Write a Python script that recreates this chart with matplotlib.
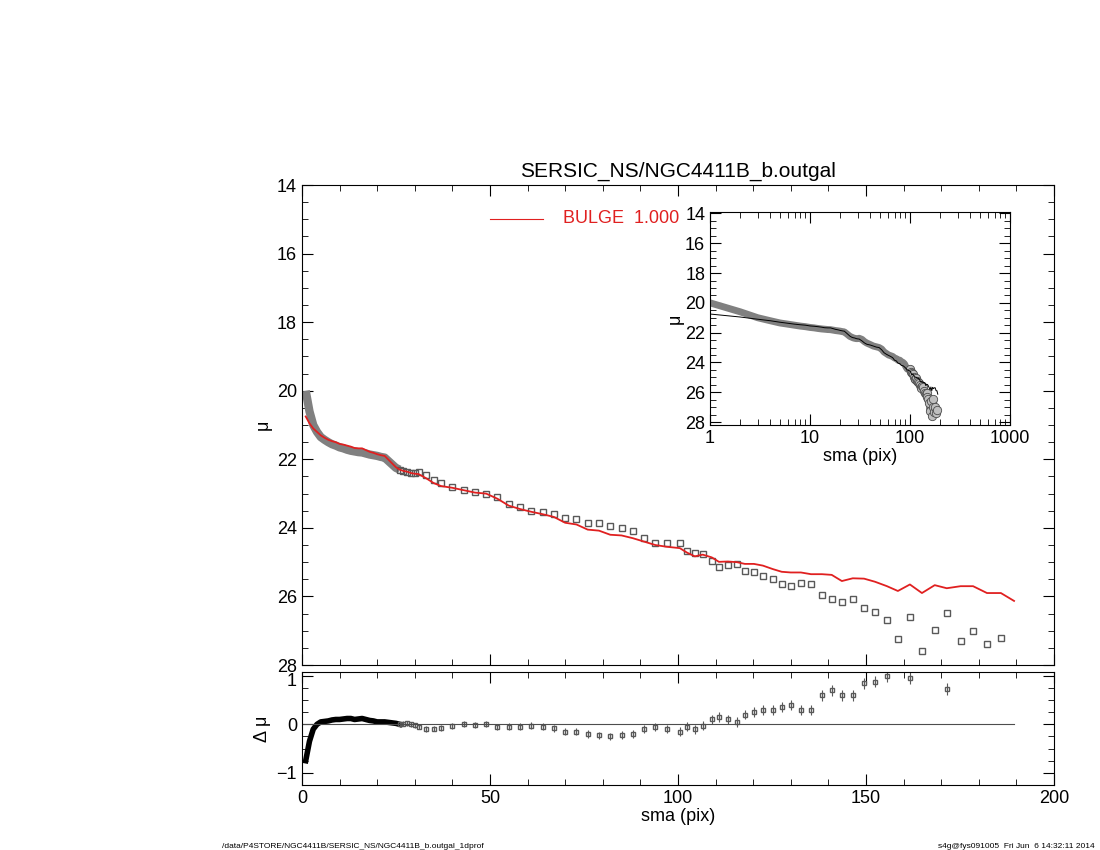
import numpy as np
import matplotlib
matplotlib.use("Agg")
import matplotlib.pyplot as plt
import matplotlib.transforms as mtrans
from matplotlib.ticker import MultipleLocator

sma = [1,2,3,4,5,6,7,8,9,10,11,12,13,14,15,16,17,18,19,20,21,22,23,24,25,26,27,28,29,30,
       31,33,35,37,40,43,46,49,52,55,58,61,64,67,70,73,76,79,82,85,88,91,94,97,100.5,
       102.4,104.5,106.6,109,110.9,113.3,115.7,117.8,120.2,122.6,125.2,127.6,130,132.7,135.4,
       138.3,140.9,143.6,146.5,149.5,152.4,155.6,158.5,161.7,164.9,168.3,171.5,175.2,178.5,182.2,185.9]
mu = [20.0,20.6,21.0,21.2,21.35,21.43,21.5,21.56,21.6,21.65,21.68,21.72,21.75,21.77,21.79,21.8,21.83,21.86,21.88,21.9,21.93,21.95,22.05,22.15,22.25,22.3,22.35,22.38,22.4,22.4,
      22.38,22.45,22.6,22.7,22.8,22.9,22.95,23.0,23.1,23.3,23.4,23.5,23.55,23.6,23.7,23.75,23.85,23.85,23.95,24.0,24.1,24.3,24.45,24.45,24.44,
      24.67,24.73,24.75,24.96,25.14,25.08,25.05,25.25,25.3,25.4,25.5,25.63,25.7,25.6,25.65,
      25.95,26.07,26.15,26.07,26.33,26.45,26.7,27.24,26.6,27.6,26.97,26.48,27.3,27.0,27.4,27.2]
res = [-0.75,-0.35,-0.1,0.0,0.05,0.06,0.07,0.09,0.1,0.1,0.11,0.12,0.12,0.1,0.11,0.12,0.1,0.08,0.07,0.05,0.05,0.05,0.04,0.03,0.02,0.0,0.01,0.02,0.0,-0.02,
       -0.05,-0.1,-0.09,-0.08,-0.03,0.0,-0.02,0.0,-0.05,-0.05,-0.05,-0.03,-0.05,-0.08,-0.15,-0.15,-0.2,-0.23,-0.25,-0.22,-0.2,-0.1,-0.05,-0.1,-0.15,
       -0.05,-0.1,-0.03,0.1,0.15,0.1,0.05,0.2,0.25,0.3,0.3,0.35,0.4,0.3,0.3,
       0.6,0.7,0.6,0.6,0.85,0.88,1.0,1.4,0.95,1.7,1.3,0.72,1.6,1.3,1.5,1.3]
model_tail_sma = [189.4]
model_tail_mu = [26.13]

sma = np.array(sma); mu = np.array(mu); res = np.array(res)
model = mu - res
msma = np.concatenate([sma, model_tail_sma])
mmod = np.concatenate([model, model_tail_mu])

fig = plt.figure(figsize=(11, 8.5), dpi=100)
plt.rcParams['font.family'] = ['Liberation Sans', 'DejaVu Sans']

def style(ax):
    ax.tick_params(which='both', direction='in', top=True, right=True, labelsize=13)
    ax.tick_params(which='major', length=8)
    ax.tick_params(which='minor', length=4)
    for s in ax.spines.values():
        s.set_linewidth(0.8)

outer = sma > 25
ax = fig.add_axes([0.2745, 0.2176, 0.6836, 0.5647])
ax.plot(sma[sma <= 26], mu[sma <= 26], '-', color='0.5', lw=6, solid_capstyle='butt')
ax.plot(sma[outer], mu[outer], 's', mfc='none', mec='0.35', ms=4, mew=1)
ax.plot(msma, mmod, '-', color='#e02020', lw=1.3)
ax.set_xlim(0, 200); ax.set_ylim(28, 14)
ax.xaxis.set_major_locator(MultipleLocator(50)); ax.xaxis.set_minor_locator(MultipleLocator(10))
ax.yaxis.set_major_locator(MultipleLocator(2)); ax.yaxis.set_minor_locator(MultipleLocator(0.5))
ax.set_xticklabels([])
ax.set_ylabel('μ', fontsize=13)
style(ax)
ax.set_title('SERSIC_NS/NGC4411B_b.outgal', fontsize=15, pad=6)
ax.plot([0.25, 0.32], [0.93, 0.93], transform=ax.transAxes, color='#e02020', lw=0.8)
ax.text(0.347, 0.93, 'BULGE  1.000', transform=ax.transAxes, color='#e02020', fontsize=13, va='center')

ar = fig.add_axes([0.2745, 0.0765, 0.6836, 0.133])
ar.plot(sma[sma <= 26], res[sma <= 26], '-', color='k', lw=4)
ar.plot(sma[outer], res[outer], 's', mfc='none', mec='0.35', ms=3.5, mew=1)
ar.errorbar(sma[outer], res[outer], yerr=0.04 + 0.0005*sma[outer], fmt='none', ecolor='0.35', lw=0.8)
ar.plot([0, 189.4], [0, 0], color='0.3', lw=0.8)
ar.set_xlim(0, 200); ar.set_ylim(-1.25, 1.08)
ar.xaxis.set_major_locator(MultipleLocator(50)); ar.xaxis.set_minor_locator(MultipleLocator(10))
ar.yaxis.set_major_locator(MultipleLocator(1)); ar.yaxis.set_minor_locator(MultipleLocator(0.25))
ar.set_xlabel('sma (pix)', fontsize=13, labelpad=1)
ar.set_ylabel('Δ μ', fontsize=13)
style(ar)
fig.canvas.draw()
for lab in ar.get_yticklabels():
    if lab.get_text() in ('1',):
        lab.set_transform(lab.get_transform() + mtrans.ScaledTranslation(0, -3/72, fig.dpi_scale_trans))

ai = fig.add_axes([0.6455, 0.5, 0.2727, 0.2506])
ai.plot(sma, mu, '-', color='0.5', lw=5)
ai.plot(sma[sma > 100], mu[sma > 100], 'o', mfc='0.75', mec='0.3', ms=6, mew=0.6)
ai.plot(msma, mmod, '-', color='k', lw=0.7)
ai.set_xscale('log'); ai.set_xlim(1, 1000); ai.set_ylim(28.2, 13.9)
ai.yaxis.set_major_locator(MultipleLocator(2)); ai.yaxis.set_minor_locator(MultipleLocator(0.5))
ai.set_xticks([1, 10, 100, 1000]); ai.set_xticklabels(['1', '10', '100', '1000'])
ai.set_xlabel('sma (pix)', fontsize=13, labelpad=1)
ai.set_ylabel('μ', fontsize=13, labelpad=1)
style(ai)

fig.text(0.202, 0.002, '/data/P4STORE/NGC4411B/SERSIC_NS/NGC4411B_b.outgal_1dprof', fontsize=6)
fig.text(0.995, 0.002, 's4g@fys091005  Fri Jun  6 14:32:11 2014', fontsize=6, ha='right')
fig.savefig('out.png', dpi=100)
